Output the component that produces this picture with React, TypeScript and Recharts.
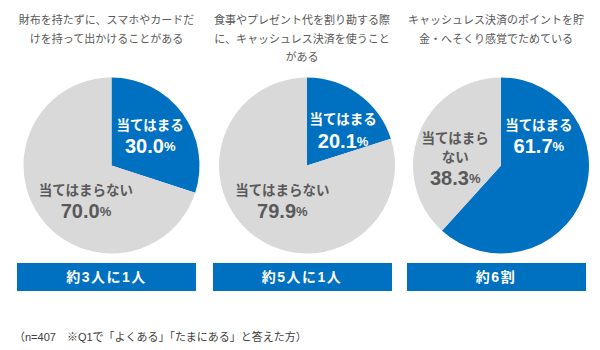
import React from "react";
import { PieChart, Pie, Cell } from "recharts";

const titles = [
  ["財布を持たずに、スマホやカードだ", "けを持って出かけることがある"],
  ["食事やプレゼント代を割り勘する際", "に、キャッシュレス決済を使うこと", "がある"],
  ["キャッシュレス決済のポイントを貯", "金・へそくり感覚でためている"],
];

const categories = ["当てはまる", "当てはまらない"];
const fitValues = [30.0, 20.1, 61.7];
const unfitValues = [70.0, 79.9, 38.3];
const summaries = ["約3人に1人", "約5人に1人", "約6割"];

// how the category names break inside each pie
const labelLines = [
  [["当てはまる"], ["当てはまらない"]],
  [["当てはまる"], ["当てはまらない"]],
  [["当てはまる"], ["当てはまら", "ない"]],
];

// label anchor (first line) relative to pie centre, as a share of the radius
const labelSpots = [
  [{ dx: 0.44, dy: -0.46 }, { dx: -0.29, dy: 0.28 }],
  [{ dx: 0.41, dy: -0.52 }, { dx: -0.28, dy: 0.28 }],
  [{ dx: 0.43, dy: -0.46 }, { dx: -0.52, dy: -0.31 }],
];

const note = "（n=407　※Q1で「よくある」「たまにある」と答えた方）";

const BLUE = "#0070c0";
const GRAY = "#d9d9d9";
const FONT = '"Liberation Sans", Arial, "Noto Sans CJK JP", sans-serif';

const centers = [106.5, 302, 496];
const RADIUS = 88;

const makeLabel = (chart: number) => (props: any) => {
  const { cx, cy, outerRadius, index, value } = props;
  const spot = labelSpots[chart][index];
  const lines = labelLines[chart][index];
  const x = cx + spot.dx * outerRadius;
  const y = cy + spot.dy * outerRadius;
  const color = index === 0 ? "#ffffff" : "#595959";
  return (
    <g>
      {lines.map((l, i) => (
        <text
          key={i}
          x={x}
          y={y + i * 19}
          fill={color}
          textAnchor="middle"
          dominantBaseline="central"
          fontSize={13.5}
          fontWeight="bold"
          fontFamily={FONT}
        >
          {l}
        </text>
      ))}
      <text
        x={x}
        y={y + (lines.length - 1) * 19 + 21}
        fill={color}
        textAnchor="middle"
        dominantBaseline="central"
        fontWeight="bold"
        fontFamily={FONT}
      >
        <tspan fontSize={20}>{value.toFixed(1)}</tspan>
        <tspan fontSize={13}>%</tspan>
      </text>
    </g>
  );
};

const App: React.FC = () => {
  return (
    <div
      style={{
        position: "absolute",
        left: 0,
        top: 0,
        width: 600,
        height: 350,
        background: "#fff",
        fontFamily: FONT,
      }}
    >
      {titles.map((t, i) => (
        <div
          key={i}
          style={{
            position: "absolute",
            left: centers[i] - 100,
            top: 11,
            width: 200,
            textAlign: "center",
            fontSize: 11,
            lineHeight: "18.5px",
            color: "#595959",
            letterSpacing: 0,
          }}
        >
          {t.map((line, j) => (
            <div key={j}>{line}</div>
          ))}
        </div>
      ))}
      <div style={{ position: "absolute", left: 0, top: 0 }}>
        <PieChart width={600} height={260}>
          {fitValues.map((v, i) => {
            const rows = [
              { name: categories[0], value: v },
              { name: categories[1], value: unfitValues[i] },
            ];
            return (
              <Pie
                key={i}
                data={rows}
                dataKey="value"
                nameKey="name"
                cx={centers[i]}
                cy={160.5}
                outerRadius={RADIUS}
                startAngle={90}
                endAngle={-270}
                stroke="none"
                labelLine={false}
                label={makeLabel(i)}
                isAnimationActive={false}
              >
                <Cell fill={BLUE} />
                <Cell fill={GRAY} />
              </Pie>
            );
          })}
        </PieChart>
      </div>
      {summaries.map((s, i) => (
        <div
          key={i}
          style={{
            position: "absolute",
            left: centers[i] - 89.5,
            top: 263,
            width: 179,
            height: 28,
            background: BLUE,
            color: "#fff",
            fontWeight: "bold",
            fontSize: 14,
            lineHeight: "28px",
            textAlign: "center",
            letterSpacing: 1.5,
          }}
        >
          {s}
        </div>
      ))}
      <div
        style={{
          position: "absolute",
          left: 14,
          top: 328,
          fontSize: 11,
          color: "#404040",
          whiteSpace: "nowrap",
        }}
      >
        {note}
      </div>
    </div>
  );
};

export default App;
